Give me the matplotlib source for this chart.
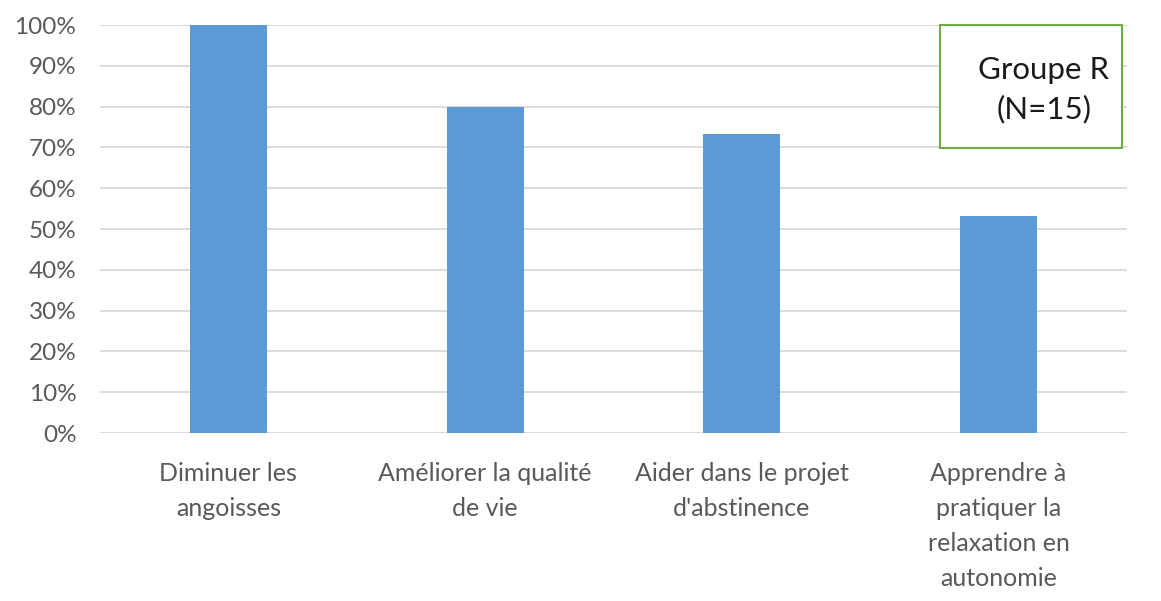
import matplotlib.pyplot as plt
from matplotlib.ticker import PercentFormatter

categories = ["Diminuer les\nangoisses",
              "Améliorer la qualité\nde vie",
              "Aider dans le projet\nd'abstinence",
              "Apprendre à\npratiquer la\nrelaxation en\nautonomie"]
values = [1.0, 0.8, 0.733, 0.533]
yticks = [0, 0.1, 0.2, 0.3, 0.4, 0.5, 0.6, 0.7, 0.8, 0.9, 1.0]
box_text = "Groupe R\n(N=15)"

plt.rcParams['font.family'] = ['Lato', 'DejaVu Sans']

fig = plt.figure(figsize=(11.61, 6.01), dpi=100)
ax = fig.add_axes([100 / 1161, 1 - 433 / 601, 1027 / 1161, 408 / 601])

x = range(len(categories))
ax.bar(x, values, width=0.3, color="#5B9BD5", zorder=3)

ax.set_xlim(-0.5, len(categories) - 0.5)
ax.set_ylim(0, 1.0)
ax.set_yticks(yticks)
ax.yaxis.set_major_formatter(PercentFormatter(1.0, decimals=0))
ax.grid(axis='y', color="#d9d9d9", linewidth=1.3, zorder=0)
ax.set_axisbelow(True)
ax.axhline(0, color="#d9d9d9", linewidth=1.5, zorder=1)
ax.axhline(1.0, color="#d9d9d9", linewidth=1.3, zorder=1)

for s in ax.spines.values():
    s.set_visible(False)

ax.set_xticks(list(x))
ax.set_xticklabels(categories, fontsize=18, color="#595959",
                   linespacing=1.62, va='top')
ax.tick_params(axis='x', length=0, pad=21)
ax.tick_params(axis='y', length=0, pad=17, labelsize=17.5,
               labelcolor="#595959")

ax.text(0.919, 0.842, box_text, transform=ax.transAxes, ha='center',
        va='center', fontsize=22.5, color="#1a1a1a", linespacing=1.45,
        zorder=5)
box = plt.Rectangle((0.818, 0.6985), 0.177, 0.3015, transform=ax.transAxes,
                    facecolor="white", edgecolor="#70AD47", linewidth=1.5,
                    zorder=4, clip_on=False)
ax.add_patch(box)

fig.savefig("out.png", dpi=100, facecolor="white")
